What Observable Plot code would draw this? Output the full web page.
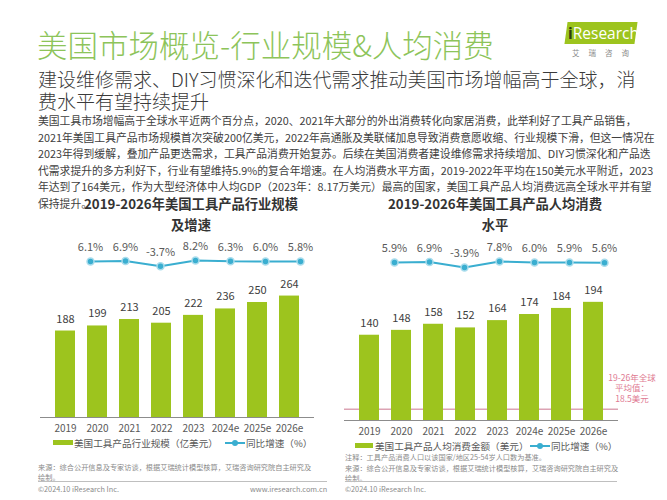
<!DOCTYPE html>
<html>
<head>
<meta charset="utf-8">
<script src="https://cdn.jsdelivr.net/npm/d3@7"></script>
<script src="https://cdn.jsdelivr.net/npm/@observablehq/plot@0.6"></script>
<style>
  html, body { margin: 0; padding: 0; background: #fff; overflow: hidden; width: 667px; height: 500px; }
  #page { width: 667px; height: 500px; position: relative; overflow: hidden;
         font-family: "Noto Sans CJK SC", "Noto Sans", sans-serif; color: #404040; }
  .abs { position: absolute; white-space: nowrap; }
  .title { left: 37px; top: 23px; font-size: 30.5px; color: #8dc45a; line-height: 42px; font-weight: 300; }
  .sub { left: 38px; top: 68px; font-size: 19px; line-height: 22px; color: #3a3a3a; font-weight: 300; }
  .para { left: 38px; top: 112px; font-size: 10.8px; line-height: 16.6px; color: #404040; }
  .ctitle { font-size: 13.3px; font-weight: bold; color: #333; text-align: center; line-height: 21px; }
  .legend { font-size: 9.6px; color: #595959; line-height: 12px; }
  .swatch { position: absolute; height: 5px; background: #9dc41e; }
  .lsym { position: absolute; width: 20px; height: 8px; }
  .lsym::before { content: ""; position: absolute; left: 0; right: 0; top: 3px; height: 2px; background: #3aaed0; }
  .lsym::after { content: ""; position: absolute; left: 7px; top: 1px; width: 6px; height: 6px; border-radius: 50%; background: #3aaed0; }
  .src { font-size: 7.2px; color: #8a8a8a; line-height: 10.5px; }
  .sep { height: 1px; background: #bfbfbf; }
  .foot { font-size: 7.3px; color: #8a8a8a; line-height: 10px; }
  .ann { font-size: 8.5px; color: #e07a92; line-height: 10.3px; text-align: center; }
  .plotbox svg { display: block; max-width: none !important; }
</style>
</head>
<body>
<div id="page">
<div class="abs title">美国市场概览-行业规模&amp;人均消费</div>
<div class="abs" style="left:566px;top:22px;width:70px;height:22px;background:#9dc41e;transform:skewX(-8deg);"></div>
<div class="abs" style="left:568px;top:22px;font-size:15.5px;line-height:22px;color:#fff;font-family:'Open Sans',sans-serif;"><span style="color:#2d3a10;font-weight:bold;">i</span>Research</div>
<div class="abs" style="left:572px;top:47px;font-size:7.5px;color:#8a8a8a;letter-spacing:9px;">艾瑞咨询</div>
<div class="abs sub">建设维修需求、DIY习惯深化和迭代需求推动美国市场增幅高于全球，消<br>费水平有望持续提升</div>
<div class="abs para">美国工具市场增幅高于全球水平近两个百分点，2020、2021年大部分的外出消费转化向家居消费，此举利好了工具产品销售，<br>2021年美国工具产品市场规模首次突破200亿美元，2022年高通胀及美联储加息导致消费意愿收缩、行业规模下滑，但这一情况在<br>2023年得到缓解，叠加产品更迭需求，工具产品消费开始复苏。后续在美国消费者建设维修需求持续增加、DIY习惯深化和产品迭<br>代需求提升的多方利好下，行业有望维持5.9%的复合年增速。在人均消费水平方面，2019-2022年平均在150美元水平附近，2023<br>年达到了164美元，作为大型经济体中人均GDP（2023年：8.17万美元）最高的国家，美国工具产品人均消费远高全球水平并有望<br>保持提升。</div>

<div class="abs ctitle" style="left:41px;width:300px;top:193px;">2019-2026年美国工具产品行业规模<br>及增速</div>
<div class="abs ctitle" style="left:345px;width:300px;top:193px;">2019-2026年美国工具产品人均消费<br>水平</div>

<div id="lline" class="abs plotbox" style="left:0;top:235px;width:330px;height:40px;"></div>
<div id="lbar" class="abs plotbox" style="left:0;top:270px;width:330px;height:167px;"></div>
<div id="rline" class="abs plotbox" style="left:330px;top:236px;width:337px;height:40px;"></div>
<div id="rbar" class="abs plotbox" style="left:330px;top:276px;width:337px;height:164px;"></div>

<div class="abs ann" style="left:601px;top:372px;width:62px;">19-26年全球<br>平均值：<br>18.5美元</div>

<div class="swatch" style="left:53px;top:440px;width:20px;"></div>
<div class="abs legend" style="left:74px;top:437px;">美国工具产品行业规模（亿美元）</div>
<div class="lsym" style="left:225px;top:439px;"></div>
<div class="abs legend" style="left:246px;top:437px;">同比增速（%）</div>

<div class="swatch" style="left:355px;top:443px;width:18px;"></div>
<div class="abs legend" style="left:375px;top:440px;">美国工具产品人均消费金额（美元）</div>
<div class="lsym" style="left:530px;top:442px;"></div>
<div class="abs legend" style="left:551px;top:440px;">同比增速（%）</div>

<div class="abs src" style="left:38px;top:461.5px;">来源：综合公开信息及专家访谈，根据艾瑞统计模型核算，艾瑞咨询研究院自主研究及<br>绘制。</div>
<div class="abs sep" style="left:38px;top:481px;width:289px;"></div>
<div class="abs foot" style="left:38px;top:484px;">©2024.10 iResearch Inc.</div>
<div class="abs foot" style="left:250px;top:484px;width:74px;text-align:right;">www.iresearch.com.cn</div>

<div class="abs src" style="left:345px;top:452px;">注释：工具产品消费人口以该国家/地区25-54岁人口数为基准。</div>
<div class="abs src" style="left:345px;top:462.5px;">来源：综合公开信息及专家访谈，根据艾瑞统计模型核算，艾瑞咨询研究院自主研究及<br>绘制。</div>
<div class="abs sep" style="left:345px;top:481px;width:272px;"></div>
<div class="abs foot" style="left:345px;top:484px;">©2024.10 iResearch Inc.</div>
</div>

<script>
const years = ["2019", "2020", "2021", "2022", "2023", "2024e", "2025e", "2026e"];
const marketSize = [188, 199, 213, 205, 222, 236, 250, 264];
const marketGrowth = [null, 6.1, 6.9, -3.7, 8.2, 6.3, 6.0, 5.8];
const perCapita = [140, 148, 158, 152, 164, 174, 184, 194];
const perCapitaGrowth = [null, 5.9, 6.9, -3.9, 7.8, 6.0, 5.9, 5.6];
const globalAvg = 18.5;

const barColor = "#9dc41e";
const lineColor = "#3aaed0";
const font = '"Noto Sans CJK SC", "Noto Sans", sans-serif';

function svgStyle(width, height) {
  return {fontFamily: font, fontSize: "10px", color: "#595959", background: "transparent",
          overflow: "visible", width: width + "px", height: height + "px", maxWidth: "none"};
}

function barChart({values, width, marginLeft, marginRight, height, marginTop, yMax, rule}) {
  const data = years.map((y, i) => ({year: y, value: values[i]}));
  const marks = [];
  if (rule != null) marks.push(Plot.ruleY([rule], {stroke: "#dca3b3", strokeWidth: 1.3}));
  marks.push(
    Plot.barY(data, {x: "year", y: "value", fill: barColor}),
    Plot.ruleY([0], {stroke: "#8c8c8c", strokeWidth: 1}),
    Plot.text(data, {x: "year", y: "value", text: d => String(d.value), dy: -12, fontSize: 11, fill: "#404040"})
  );
  return Plot.plot({
    width, height, marginLeft, marginRight, marginTop, marginBottom: 20,
    x: {domain: years, padding: 0.39, label: null, tickSize: 0, tickPadding: 7},
    y: {domain: [0, yMax], axis: null},
    style: svgStyle(width, height),
    marks
  });
}

function lineChart({values, width, marginLeft, marginRight}) {
  const data = years.map((y, i) => ({year: y, g: values[i]})).filter(d => d.g != null);
  return Plot.plot({
    width, height: 40, marginLeft, marginRight, marginTop: 19, marginBottom: 1,
    x: {domain: years, padding: 0.39, axis: null},
    y: {domain: [-20, 20], axis: null},
    style: svgStyle(width, 40),
    marks: [
      Plot.line(data, {x: "year", y: "g", stroke: lineColor, strokeWidth: 2}),
      Plot.dot(data, {x: "year", y: "g", r: 3.5, fill: lineColor, stroke: "#a9dcec", strokeWidth: 1.5}),
      Plot.text(data, {x: "year", y: "g", text: d => d.g.toFixed(1) + "%", dy: -14, fontSize: 11, fill: "#595959"})
    ]
  });
}

document.getElementById("lline").appendChild(lineChart({values: marketGrowth, width: 330, marginLeft: 40, marginRight: 16}));
document.getElementById("lbar").appendChild(barChart({values: marketSize, width: 330, marginLeft: 40, marginRight: 16, height: 167, marginTop: 9, yMax: 300}));
document.getElementById("rline").appendChild(lineChart({values: perCapitaGrowth, width: 337, marginLeft: 14, marginRight: 49}));
document.getElementById("rbar").appendChild(barChart({values: perCapita, width: 337, marginLeft: 14, marginRight: 49, height: 164, marginTop: 10, yMax: 220, rule: globalAvg}));
</script>
</body>
</html>
